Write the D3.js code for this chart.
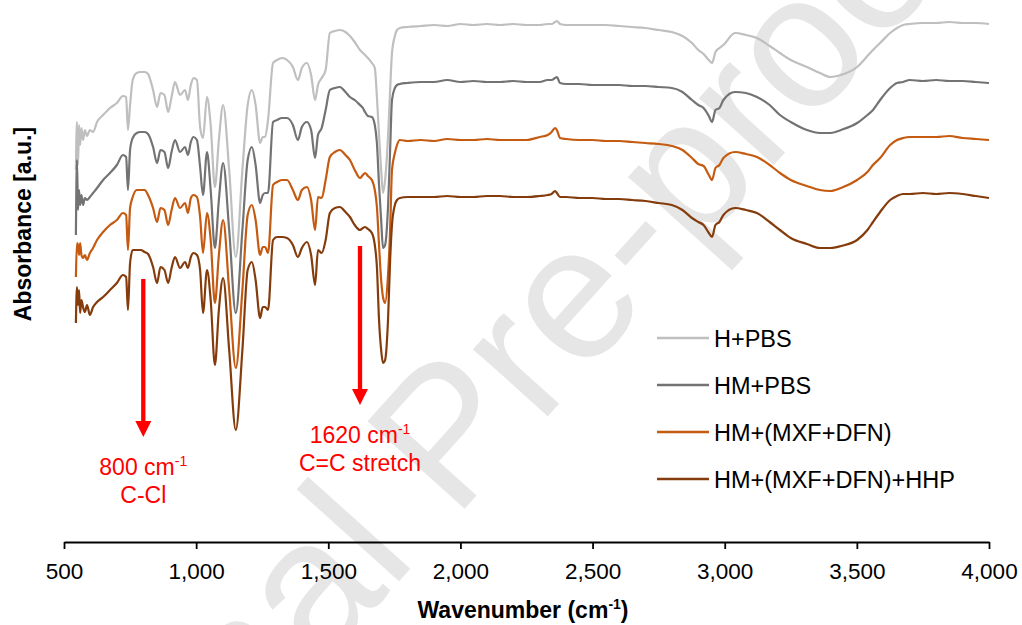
<!DOCTYPE html>
<html><head><meta charset="utf-8">
<script src="https://cdn.jsdelivr.net/npm/d3@7"></script>
<style>
body{margin:0;background:#fff}
svg{display:block;font-family:"Liberation Sans",Arial,Helvetica,sans-serif}
</style>
</head><body>
<svg id="chart" width="1022" height="625"></svg>
<script>
// ---------- DATA ----------
const wavenumbers = [
 545,549,553,557,561,566,572,579,587,598,
 610,625,648,674,700,723,735,742,750,760,
 775,790,805,818,837,852,865,880,894,907,
 920,939,958,969,980,990,1003,1015,1026,1041,
 1055,1071,1086,1102,1125,1150,1175,1195,1211,1225,
 1242,1252,1261,1272,1291,1306,1325,1344,1366,1385,
 1400,1419,1435,1450,1461,1475,1490,1506,1525,1544,
 1565,1582,1600,1620,1631,1639,1650,1665,1676,1684,
 1692,1700,1707,1715,1726,1734,1741,1752,1760,1771,
 1800,1850,1900,1950,2000,2050,2100,2150,2200,2250,
 2300,2330,2345,2358,2365,2377,2400,2450,2500,2550,
 2600,2650,2700,2750,2800,2840,2876,2900,2920,2940,
 2952,2965,2980,2995,3039,3080,3122,3170,3209,3250,
 3311,3360,3400,3440,3501,3540,3561,3588,3626,3652,
 3675,3700,3750,3800,3850,3900,3950,4000];

const hPBS = [
 3.73,4.21,3.78,4.18,3.98,4.15,4.03,4.13,4.07,4.13,
 4.11,4.21,4.28,4.35,4.40,4.47,4.46,4.13,4.38,4.63,
 4.70,4.71,4.71,4.69,4.53,4.36,4.50,4.48,4.31,4.46,
 4.61,4.48,4.53,4.43,4.58,4.65,4.63,4.16,4.05,4.46,
 4.18,3.56,4.03,4.38,3.73,2.86,3.73,4.38,4.53,4.38,
 4.00,4.06,4.06,4.23,4.80,4.83,4.85,4.83,4.76,4.63,
 4.75,4.80,4.68,4.43,4.58,4.65,4.73,5.10,5.12,5.13,
 5.11,5.07,5.01,4.93,4.90,4.88,4.85,4.80,4.75,4.46,
 4.08,3.73,3.50,3.63,4.06,4.53,4.90,5.07,5.13,5.15,
 5.16,5.17,5.18,5.17,5.19,5.18,5.19,5.18,5.19,5.18,
 5.18,5.19,5.19,5.21,5.22,5.19,5.18,5.18,5.18,5.18,
 5.17,5.16,5.15,5.13,5.11,5.07,5.00,4.93,4.89,4.83,
 4.80,4.91,4.95,4.98,5.10,5.08,5.05,4.97,4.90,4.83,
 4.76,4.70,4.66,4.68,4.76,4.87,4.93,5.00,5.10,5.15,
 5.18,5.19,5.20,5.20,5.21,5.20,5.20,5.19];

const hmPBS = [
 3.08,3.83,3.33,3.53,3.38,3.48,3.38,3.45,3.43,3.46,
 3.50,3.55,3.63,3.70,3.78,3.88,3.86,3.53,3.93,4.05,
 4.10,4.11,4.11,4.09,3.96,3.80,3.93,3.91,3.75,3.91,
 4.03,3.91,3.96,3.88,4.01,4.06,4.03,3.76,3.48,3.91,
 3.53,2.95,3.43,3.80,3.13,2.30,3.13,3.83,3.96,3.78,
 3.40,3.48,3.50,3.50,4.21,4.23,4.25,4.25,4.18,4.03,
 4.16,4.21,4.13,3.85,4.08,4.15,4.33,4.53,4.55,4.56,
 4.51,4.46,4.43,4.38,4.35,4.31,4.27,4.26,4.18,4.00,
 3.58,3.23,2.95,2.98,3.36,3.93,4.43,4.55,4.58,4.59,
 4.60,4.61,4.61,4.63,4.61,4.62,4.61,4.61,4.62,4.61,
 4.61,4.63,4.63,4.65,4.66,4.60,4.59,4.59,4.58,4.58,
 4.58,4.57,4.57,4.56,4.55,4.51,4.43,4.38,4.35,4.27,
 4.21,4.33,4.35,4.43,4.51,4.50,4.46,4.38,4.28,4.21,
 4.13,4.10,4.10,4.13,4.20,4.28,4.33,4.43,4.55,4.60,
 4.61,4.63,4.62,4.63,4.62,4.62,4.61,4.60];

const hmDrug = [
 2.66,3.00,2.98,2.88,3.00,2.88,2.85,2.88,2.83,2.90,
 2.95,3.03,3.11,3.18,3.23,3.30,3.28,2.93,3.35,3.46,
 3.53,3.53,3.53,3.48,3.35,3.21,3.35,3.33,3.18,3.33,
 3.45,3.35,3.40,3.30,3.45,3.48,3.46,3.26,2.90,3.30,
 3.03,2.40,2.88,3.23,2.53,1.75,2.53,3.28,3.38,3.23,
 2.88,2.96,2.96,2.90,3.58,3.61,3.63,3.63,3.53,3.43,
 3.53,3.56,3.43,3.13,3.46,3.45,3.63,3.86,3.91,3.93,
 3.88,3.83,3.73,3.65,3.68,3.70,3.67,3.63,3.53,3.36,
 2.98,2.63,2.46,2.40,2.68,3.13,3.73,3.90,3.98,4.03,
 4.02,4.03,4.02,4.04,4.03,4.03,4.04,4.03,4.03,4.03,
 4.06,4.08,4.11,4.15,4.13,4.05,4.04,4.03,4.03,4.02,
 4.02,4.01,4.00,3.99,3.97,3.93,3.85,3.79,3.77,3.68,
 3.63,3.75,3.78,3.85,3.91,3.89,3.86,3.78,3.70,3.63,
 3.57,3.53,3.52,3.55,3.63,3.71,3.78,3.85,3.98,4.03,
 4.05,4.06,4.06,4.06,4.07,4.05,4.04,4.03];

const hmDrugHHP = [
 2.20,2.56,2.38,2.53,2.30,2.43,2.36,2.31,2.38,2.28,
 2.36,2.41,2.46,2.53,2.60,2.68,2.66,2.33,2.80,2.93,
 2.93,2.93,2.91,2.89,2.76,2.60,2.76,2.73,2.60,2.75,
 2.86,2.75,2.81,2.75,2.86,2.90,2.88,2.73,2.30,2.73,
 2.43,1.78,2.33,2.65,1.93,1.13,1.93,2.73,2.81,2.63,
 2.25,2.36,2.36,2.33,3.03,3.06,3.06,3.05,2.98,2.86,
 2.95,3.01,2.88,2.58,2.93,2.90,3.03,3.30,3.35,3.36,
 3.31,3.26,3.18,3.13,3.15,3.16,3.14,3.10,2.98,2.76,
 2.23,1.93,1.80,1.83,2.23,2.83,3.18,3.38,3.43,3.45,
 3.46,3.46,3.46,3.47,3.46,3.46,3.47,3.47,3.46,3.46,
 3.47,3.48,3.49,3.52,3.50,3.46,3.46,3.45,3.45,3.44,
 3.44,3.43,3.42,3.40,3.38,3.33,3.25,3.21,3.18,3.10,
 3.06,3.18,3.21,3.28,3.35,3.33,3.30,3.21,3.13,3.05,
 2.99,2.95,2.95,2.97,3.03,3.13,3.21,3.31,3.43,3.47,
 3.49,3.49,3.50,3.49,3.50,3.49,3.47,3.45];

const seriesNames = ["H+PBS", "HM+PBS", "HM+(MXF+DFN)", "HM+(MXF+DFN)+HHP"];
const seriesValues = [hPBS, hmPBS, hmDrug, hmDrugHHP];
const seriesColors = ["#bfbfbf", "#737373", "#c55a11", "#843c0c"];

const xTickValues = [500, 1000, 1500, 2000, 2500, 3000, 3500, 4000];

const annotationWavenumbers = [800, 1620];
const annotationArrowFrom = [2.64, 2.97];   // absorbance where arrows start
const annotationArrowTo = [1.06, 1.38];     // absorbance at arrow tips
const annotationNumbers = ["800", "1620"];
const annotationBonds = ["C-Cl", "C=C stretch"];

// ---------- LAYOUT ----------
const svg = d3.select("#chart");
const x = d3.scaleLinear().domain([500, 4000]).range([64, 989]);
const y = d3.scaleLinear().domain([0, 5.43]).range([543, 0]);
const FONT = 23;

// watermark (behind everything)
svg.append("text")
  .attr("transform", "translate(493,477) rotate(-48)")
  .attr("text-anchor", "middle")
  .attr("font-size", 190)
  .attr("fill", "#e6e6e6")
  .text("Journal Pre-proof");

// x axis
const axis = d3.axisBottom(x).tickValues(xTickValues)
  .tickFormat(d3.format(",")).tickSize(7).tickSizeOuter(0).tickPadding(14);
const gx = svg.append("g").attr("transform", "translate(0,542)").call(axis);
gx.select(".domain").attr("stroke", "#000").attr("stroke-width", 1.8);
gx.selectAll(".tick line").attr("stroke", "#000").attr("stroke-width", 1.8);
gx.selectAll(".tick text").attr("font-size", 22.5).attr("fill", "#000")
  .attr("font-family", "'Liberation Sans',Arial,sans-serif");

// axis titles
const xt = svg.append("text").attr("x", 523).attr("y", 618)
  .attr("text-anchor", "middle").attr("font-size", FONT).attr("font-weight", "bold");
xt.append("tspan").text("Wavenumber (cm");
xt.append("tspan").attr("font-size", 14).attr("dy", -9).text("-1");
xt.append("tspan").attr("dy", 9).text(")");

svg.append("text").attr("transform", "translate(31,224) rotate(-90)")
  .attr("text-anchor", "middle").attr("font-size", FONT).attr("font-weight", "bold")
  .text("Absorbance [a.u.]");

// spectra
const line = d3.line()
  .x((d, i) => x(wavenumbers[i]))
  .y(d => y(d))
  .curve(d3.curveMonotoneX);

svg.append("g").selectAll("path").data(seriesValues).join("path")
  .attr("d", line)
  .attr("fill", "none")
  .attr("stroke", (d, i) => seriesColors[i])
  .attr("stroke-width", 2.2)
  .attr("stroke-linejoin", "round");

// annotations
annotationWavenumbers.forEach((wn, i) => {
  const ax = x(wn), y0 = y(annotationArrowFrom[i]), y1 = y(annotationArrowTo[i]);
  svg.append("line").attr("x1", ax).attr("x2", ax).attr("y1", y0).attr("y2", y1 - 14)
    .attr("stroke", "#ff0000").attr("stroke-width", 4.3);
  svg.append("path")
    .attr("d", `M${ax - 8},${y1 - 16}L${ax + 8},${y1 - 16}L${ax},${y1}Z`)
    .attr("fill", "#ff0000");
  const t1 = svg.append("text").attr("x", ax).attr("y", y1 + 38)
    .attr("text-anchor", "middle").attr("font-size", FONT).attr("fill", "#ff0000");
  t1.append("tspan").text(annotationNumbers[i] + " cm");
  t1.append("tspan").attr("font-size", 14).attr("dy", -9).text("-1");
  svg.append("text").attr("x", ax).attr("y", y1 + 66)
    .attr("text-anchor", "middle").attr("font-size", FONT).attr("fill", "#ff0000")
    .text(annotationBonds[i]);
});

// legend
const lg = svg.append("g");
seriesNames.forEach((name, i) => {
  const ly = 338 + i * 47;
  lg.append("line").attr("x1", 657).attr("x2", 709).attr("y1", ly).attr("y2", ly)
    .attr("stroke", seriesColors[i]).attr("stroke-width", 2.5);
  lg.append("text").attr("x", 714).attr("y", ly + 8.5)
    .attr("font-size", 23.5).attr("fill", "#000").text(name);
});
</script>
</body></html>
